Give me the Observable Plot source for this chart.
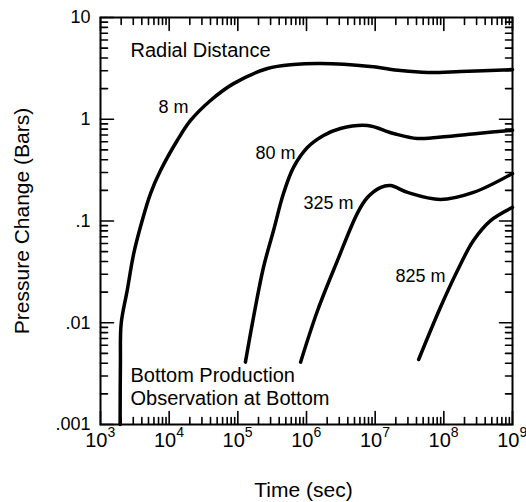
<!DOCTYPE html>
<html>
<head>
<meta charset="utf-8">
<script src="https://cdn.jsdelivr.net/npm/d3@7"></script>
<script src="https://cdn.jsdelivr.net/npm/@observablehq/plot@0.6"></script>
<style>
  html, body { margin: 0; padding: 0; background: #fff; overflow: hidden; }
  #chart { position: relative; width: 526px; height: 502px; }
  #chart svg { position: absolute; left: 0; top: 0; display: block; background: transparent; }
</style>
</head>
<body>
<div id="chart"></div>
<script>
// ---- data ----
const t8   = [1.93e3, 1.95e3, 2.0e3, 2.45e3, 3.05e3, 4.05e3, 5.35e3, 7.48e3, 1.31e4, 2.05e4, 4.0e4, 8.65e4, 2.7e5, 6.5e5, 1.6e6, 8.5e6, 2.35e7, 5.8e7, 1.75e8, 1e9];
const p8   = [0.001, 0.004, 0.0098, 0.0208, 0.048, 0.101, 0.186, 0.313, 0.618, 0.973, 1.53, 2.24, 3.15, 3.45, 3.53, 3.30, 3.01, 2.88, 2.94, 3.08];
const t80  = [1.29e5, 1.69e5, 2.36e5, 3.31e5, 4.62e5, 6.47e5, 1.03e6, 1.77e6, 3.12e6, 7.73e6, 1.85e7, 4.1e7, 1.13e8, 3.1e8, 1e9];
const p80  = [0.0041, 0.0113, 0.0349, 0.0807, 0.186, 0.336, 0.527, 0.692, 0.811, 0.869, 0.725, 0.647, 0.677, 0.725, 0.78];
const t325 = [8.2e5, 1.45e6, 2.83e6, 5.5e6, 7.7e6, 1.19e7, 1.67e7, 2.96e7, 8.9e7, 2.7e8, 1e9];
const p325 = [0.0041, 0.0132, 0.041, 0.119, 0.17, 0.213, 0.223, 0.191, 0.163, 0.191, 0.293];
const t825 = [4.3e7, 8.9e7, 1.58e8, 2.7e8, 4.8e8, 1e9];
const p825 = [0.00435, 0.0141, 0.0326, 0.0643, 0.101, 0.136];

const seriesNames = ["8 m", "80 m", "325 m", "825 m"];
// label anchor points (data coordinates, text ends here)
const labelT = [1.91e4, 6.92e5, 4.83e6, 1.06e8];
const labelP = [1.30, 0.46, 0.1486, 0.0285];

const xDecades = [3, 4, 5, 6, 7, 8, 9];
const yTickValues = [10, 1, 0.1, 0.01, 0.001];
const yTickLabels = ["10", "1", ".1", ".01", ".001"];

const noteTexts = ["Radial Distance", "Bottom Production", "Observation at Bottom"];
const noteT = [2.73e3, 2.73e3, 2.73e3];
const noteP = [4.74, 0.00303, 0.00178];

// ---- build tables ----
const rows = [];
[[t8, p8], [t80, p80], [t325, p325], [t825, p825]].forEach(([ts, ps], k) => {
  ts.forEach((t, i) => rows.push({series: seriesNames[k], t, p: ps[i]}));
});
const labels = seriesNames.map((s, i) => ({text: s, t: labelT[i], p: labelP[i]}));
const notes = noteTexts.map((s, i) => ({text: s, t: noteT[i], p: noteP[i]}));

const W = 526, H = 502, ML = 100, MR = 14, MT = 17, MB = 78;
const XDOM = [1e3, 1e9], YDOM = [1e-3, 10];
const pxPerDecX = (W - ML - MR) / Math.log10(XDOM[1] / XDOM[0]);
const pxPerDecY = (H - MT - MB) / Math.log10(YDOM[1] / YDOM[0]);
const fx = (px) => Math.pow(10, px / pxPerDecX);
const fy = (px) => Math.pow(10, px / pxPerDecY);

const xMajor = xDecades.map(e => Math.pow(10, e));
const xMinor = [];
for (let e = 3; e < 9; e++) for (let m = 2; m <= 9; m++) xMinor.push(m * Math.pow(10, e));
const yMajor = yTickValues.slice();
const yMinor = [];
for (let e = -3; e < 1; e++) for (let m = 2; m <= 9; m++) yMinor.push(m * Math.pow(10, e));
const yTicks = yTickValues.map((v, i) => ({v, label: yTickLabels[i]}));

// inward tick segments on all four sides, as two-point polylines
const MAJ = 13, MIN = 7;
const tickPts = [];
let tid = 0;
function seg(xa, ya, xb, yb) {
  tickPts.push({id: tid, t: xa, p: ya});
  tickPts.push({id: tid, t: xb, p: yb});
  tid++;
}
function addX(values, len) {
  values.forEach(v => {
    seg(v, YDOM[0], v, YDOM[0] * fy(len));
    seg(v, YDOM[1] / fy(len), v, YDOM[1]);
  });
}
function addY(values, len) {
  values.forEach(v => {
    seg(XDOM[0], v, XDOM[0] * fx(len), v);
    seg(XDOM[1] / fx(len), v, XDOM[1], v);
  });
}
addX(xMajor, MAJ); addX(xMinor, MIN); addY(yMajor, MAJ); addY(yMinor, MIN);

const FONT = "'Liberation Sans', Arial, Helvetica, sans-serif";
const base = {
  width: W, height: H, marginLeft: ML, marginRight: MR, marginTop: MT, marginBottom: MB,
  x: {type: "log", domain: XDOM, axis: null},
  y: {type: "log", domain: YDOM, axis: null}
};

// layer 1: ticks, frame and curves
const graphics = Plot.plot({
  ...base,
  marks: [
    Plot.line(tickPts, {x: "t", y: "p", z: "id", stroke: "#000", strokeWidth: 1.6, curve: "linear"}),
    Plot.frame({stroke: "#000", strokeWidth: 2}),
    Plot.line(rows, {x: "t", y: "p", z: "series", stroke: "#000", strokeWidth: 3.5, curve: "catmull-rom"})
  ]
});

// layer 2: all texts, same scales
const texts = Plot.plot({
  ...base,
  style: {fontFamily: FONT, background: "transparent"},
  marks: [
    Plot.text(labels, {x: "t", y: "p", text: "text", textAnchor: "end", fontSize: 18, fill: "#000"}),
    Plot.text(notes, {x: "t", y: "p", text: "text", textAnchor: "start", fontSize: 20, fill: "#000"}),
    Plot.text(yTicks, {x: XDOM[0], y: "v", text: "label", textAnchor: "end", dx: -10, fontSize: 18, fill: "#000"}),
    Plot.text(xMajor, {x: d => d, y: YDOM[0], text: () => "10", textAnchor: "end", dx: 7, dy: 16, fontSize: 20, fill: "#000"}),
    Plot.text(xDecades, {x: d => Math.pow(10, d), y: YDOM[0], text: d => String(d), textAnchor: "start", dx: 7, dy: 8, fontSize: 14, fill: "#000"}),
    Plot.text(["Time (sec)"], {frameAnchor: "bottom", text: d => d, textAnchor: "middle", lineAnchor: "middle", dy: 66, dx: -3, fontSize: 21, fill: "#000"}),
    Plot.text(["Pressure Change (Bars)"], {frameAnchor: "left", text: d => d, textAnchor: "middle", lineAnchor: "middle", rotate: -90, dx: -78, fontSize: 21, fill: "#000"})
  ]
});

const root = document.getElementById("chart");
root.appendChild(graphics);
root.appendChild(texts);
</script>
</body>
</html>
